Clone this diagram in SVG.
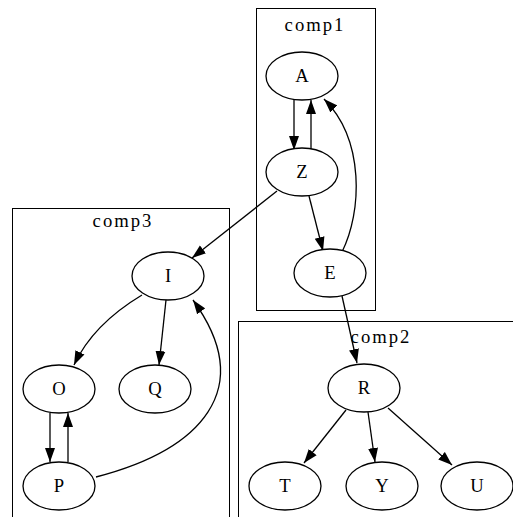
<svg xmlns="http://www.w3.org/2000/svg" width="513" height="517" viewBox="0 0 513 517">
<defs>
<style>
.cl{fill:none;stroke:#000;stroke-width:1}
.nd ellipse{fill:#fff;stroke:#000;stroke-width:1.3}
text{font-family:"Liberation Serif","Times New Roman",serif;font-size:18.67px;fill:#000;text-anchor:middle}
.ct{letter-spacing:2px}
.ed path{fill:none;stroke:#000;stroke-width:1.3;marker-end:url(#ah)}
</style>
<marker id="ah" markerWidth="15" markerHeight="11" refX="14" refY="5.5" orient="auto" markerUnits="userSpaceOnUse"><path d="M0,0.5 L14,5.5 L0,10.5 z" fill="#000"/></marker>
</defs>
<rect width="513" height="517" fill="#fff"/>
<g id="clusters">
<g id="comp1"><rect class="cl" x="256.5" y="8.5" width="119" height="302"/><text class="ct" x="315" y="31">comp1</text></g>
<g id="comp3"><rect class="cl" x="12.5" y="208.5" width="217" height="320"/><text class="ct" x="123" y="227">comp3</text></g>
<g id="comp2"><rect class="cl" x="238.5" y="321.5" width="290" height="210"/><text class="ct" x="381" y="343">comp2</text></g>
</g>
<g class="ed" id="edges">
<path d="M294,100 L294,150"/>
<path d="M311,149 L311,100"/>
<path d="M309,196 L323,251"/>
<path d="M342,252 C362,212 365,140 324,99"/>
<path d="M277,191 L192,258"/>
<path d="M342,296 L357,363"/>
<path d="M142,295 C112,313 88,335 74,365"/>
<path d="M166,300 L159,365"/>
<path d="M50,413 L50,462"/>
<path d="M68,462 L68,413"/>
<path d="M96,477 C200,450 258,390 193,300"/>
<path d="M346,410 L304,463"/>
<path d="M368,412 L375,462"/>
<path d="M388,408 L452,465"/>
</g>
<g class="nd" id="A"><ellipse cx="302" cy="76" rx="36" ry="24"/><text x="302" y="82">A</text></g>
<g class="nd" id="Z"><ellipse cx="302" cy="172" rx="36" ry="24"/><text x="302" y="178">Z</text></g>
<g class="nd" id="E"><ellipse cx="330" cy="273" rx="36" ry="24"/><text x="330" y="279">E</text></g>
<g class="nd" id="I"><ellipse cx="168" cy="276" rx="36" ry="24"/><text x="168" y="282">I</text></g>
<g class="nd" id="O"><ellipse cx="59" cy="389" rx="36" ry="24"/><text x="59" y="395">O</text></g>
<g class="nd" id="Q"><ellipse cx="155" cy="389" rx="36" ry="24"/><text x="155" y="395">Q</text></g>
<g class="nd" id="P"><ellipse cx="59" cy="486" rx="36" ry="24"/><text x="59" y="492">P</text></g>
<g class="nd" id="R"><ellipse cx="364" cy="388" rx="36" ry="24"/><text x="364" y="394">R</text></g>
<g class="nd" id="T"><ellipse cx="285" cy="486" rx="36" ry="24"/><text x="285" y="492">T</text></g>
<g class="nd" id="Y"><ellipse cx="382" cy="486" rx="36" ry="24"/><text x="382" y="492">Y</text></g>
<g class="nd" id="U"><ellipse cx="477" cy="486" rx="36" ry="24"/><text x="477" y="492">U</text></g>
</svg>
